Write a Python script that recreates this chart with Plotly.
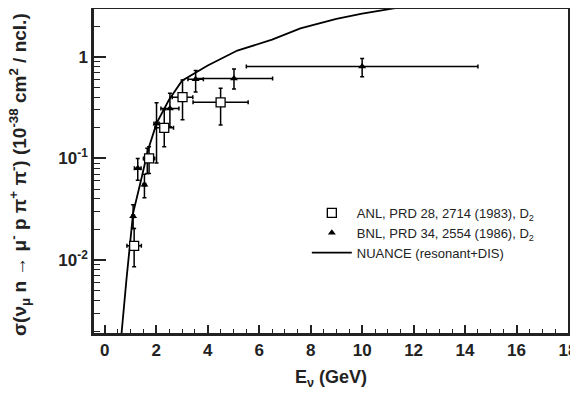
"""
Cross section of nu_mu n -> mu- p pi+ pi- versus neutrino energy.
ANL and BNL deuterium data compared with the NUANCE prediction.
"""
import plotly.graph_objects as go

# ANL, PRD 28, 2714 (1983)
anl_e = [1.14, 1.72, 2.31, 3.02, 4.5]
anl_ex = [0.28, 0.22, 0.36, 0.4, 1.07]
anl_sig = [0.0138, 0.1, 0.2, 0.40, 0.356]
anl_up = [0.0205, 0.13, 0.3, 0.59, 0.49]
anl_lo = [0.0086, 0.071, 0.13, 0.24, 0.213]

# BNL, PRD 34, 2554 (1986)
bnl_e = [1.10, 1.28, 1.54, 1.65, 2.01, 2.53, 3.53, 5.02, 10.0]
bnl_ex = [0.05, 0.13, 0.05, 0.05, 0.1, 0.35, 0.3, 1.5, 4.5]
bnl_sig = [0.027, 0.08, 0.055, 0.1, 0.22, 0.31, 0.6, 0.61, 0.80]
bnl_up = [0.035, 0.1, 0.07, 0.126, 0.353, 0.436, 0.73, 0.757, 0.96]
bnl_lo = [0.0205, 0.061, 0.041, 0.071, 0.09, 0.205, 0.45, 0.48, 0.636]

# NUANCE (resonant+DIS)
nuance_e = [0.6, 0.65, 0.84, 1.10, 1.4, 1.68, 2.01, 2.49, 3.0, 3.5, 4.0,
            5.15, 6.5, 7.6, 9.0, 10.0, 11.2, 12.0, 13.0]
nuance_sig = [0.0015, 0.0019, 0.0064, 0.029, 0.06, 0.121, 0.221, 0.375, 0.58,
              0.69, 0.82, 1.15, 1.47, 1.9, 2.35, 2.65, 2.99, 3.25, 3.55]

y_major = [0.01, 0.1, 1]
y_major_text = ["10<sup>-2</sup>", "10<sup>-1</sup>", "1"]
y_minor = [m * d for d in [0.001, 0.01, 0.1, 1] for m in range(2, 10)]


def asym(vals, up, lo):
    return ([u - v for u, v in zip(up, vals)], [v - l for v, l in zip(vals, lo)])


anl_plus, anl_minus = asym(anl_sig, anl_up, anl_lo)
bnl_plus, bnl_minus = asym(bnl_sig, bnl_up, bnl_lo)

fig = go.Figure()

fig.add_trace(go.Scatter(
    x=nuance_e, y=nuance_sig, mode="lines",
    line=dict(color="black", width=1.8),
    name="NUANCE (resonant+DIS)", legendrank=3,
))

fig.add_trace(go.Scatter(
    x=bnl_e, y=bnl_sig, mode="markers",
    marker=dict(symbol="triangle-up", size=7, color="black"),
    error_x=dict(type="data", array=bnl_ex, color="black", thickness=1.5, width=2),
    error_y=dict(type="data", symmetric=False, array=bnl_plus, arrayminus=bnl_minus,
                 color="black", thickness=1.5, width=2),
    name="BNL, PRD 34, 2554 (1986), D<sub>2</sub>", legendrank=2,
))

fig.add_trace(go.Scatter(
    x=anl_e, y=anl_sig, mode="markers",
    marker=dict(symbol="square", size=9, color="white", line=dict(color="black", width=1.3)),
    error_x=dict(type="data", array=anl_ex, color="black", thickness=1.5, width=2),
    error_y=dict(type="data", symmetric=False, array=anl_plus, arrayminus=anl_minus,
                 color="black", thickness=1.5, width=2),
    name="ANL, PRD 28, 2714 (1983), D<sub>2</sub>", legendrank=1,
))

tick_font = dict(family="Liberation Sans, Arial, sans-serif", size=17, color="#222",
                 weight="bold")

# the page body adds an 8px offset, so margins are shifted to compensate
fig.update_layout(
    width=578, height=400,
    margin=dict(l=86, r=18, t=1, b=75),
    paper_bgcolor="white", plot_bgcolor="white",
    font=dict(family="Liberation Sans, Arial, sans-serif", color="#222"),
    showlegend=True,
    legend=dict(
        x=0.449, y=0.417, xanchor="left", yanchor="top",
        bgcolor="rgba(0,0,0,0)", font=dict(size=13, color="#222"),
        itemwidth=40, tracegroupgap=0,
    ),
    xaxis=dict(
        range=[-0.42, 18], tickmode="linear", tick0=0, dtick=2,
        ticks="inside", ticklen=8, tickwidth=1.5, tickcolor="#222",
        minor=dict(ticks="inside", dtick=0.5, tick0=0, ticklen=4, tickwidth=1.2,
                   tickcolor="#222", showgrid=False),
        showline=True, linecolor="#222", linewidth=2.5, mirror=True,
        showgrid=False, zeroline=False, automargin=False,
        ticklabeloverflow="allow",
        tickfont=tick_font,
        title=dict(text="<b>E<sub>ν</sub> (GeV)</b>", font=dict(size=18, color="#222"),
                   standoff=12),
    ),
    yaxis=dict(
        type="log", range=[-2.717, 0.469],
        tickmode="array", tickvals=y_major, ticktext=y_major_text,
        ticks="inside", ticklen=12, tickwidth=1.5, tickcolor="#222",
        minor=dict(ticks="inside", tickmode="array", tickvals=y_minor, ticklen=6,
                   tickwidth=1.2, tickcolor="#222", showgrid=False),
        showline=True, linecolor="#222", linewidth=2.5, mirror=True,
        showgrid=False, zeroline=False, automargin=False,
        tickfont=tick_font,
    ),
    annotations=[dict(
        text="<b>σ(ν<sub>μ</sub> n → μ<sup>-</sup> p π<sup>+</sup> π<sup>-</sup>) "
             "(10<sup>-38</sup> cm<sup>2</sup> / ncl.)</b>",
        xref="paper", yref="paper", x=-0.156, y=0.488,
        xanchor="center", yanchor="middle", textangle=-90, showarrow=False,
        font=dict(size=19, color="#222"),
    )],
)

fig.write_html("out.html")
